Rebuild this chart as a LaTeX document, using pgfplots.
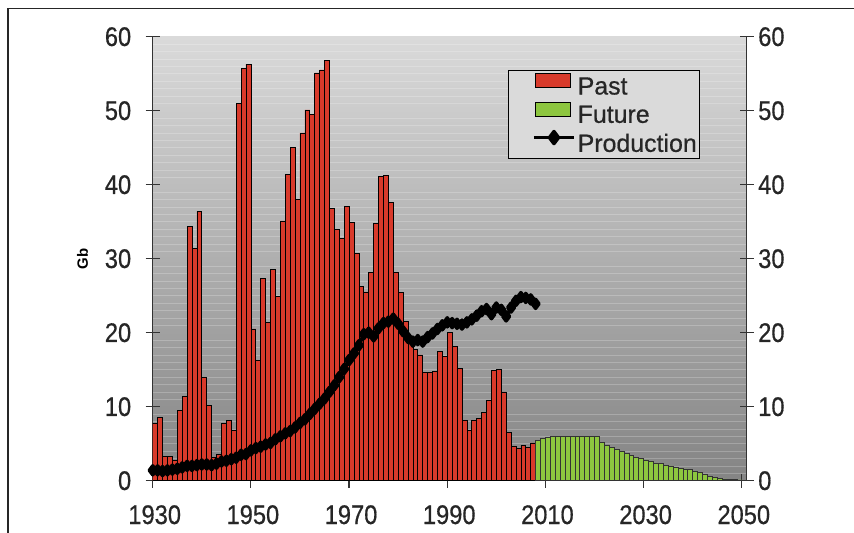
\documentclass[border=0pt]{standalone}
\usepackage{fontspec}
\setmainfont{Liberation Sans}
\newfontfamily\heavyfont[FakeBold=0.6]{Liberation Sans}
\usepackage{pgfplots}
\usepackage{pgfplotstable}
\pgfplotsset{compat=1.18}
\definecolor{pastred}{HTML}{D83A2B}
\definecolor{futgreen}{HTML}{8DC63F}
\definecolor{bgtop}{HTML}{DADADA}
\definecolor{bgmid}{HTML}{B2B2B2}
\definecolor{bgbot}{HTML}{848484}
\definecolor{axgray}{HTML}{333333}

\pgfplotstableread{
year gb
1930 7.7
1931 8.6
1932 3.3
1933 3.3
1934 2.7
1935 9.5
1936 11.4
1937 34.4
1938 31.4
1939 36.4
1940 13.9
1941 10.2
1942 3.2
1943 3.6
1944 7.7
1945 8.1
1946 6.8
1947 51.0
1948 55.7
1949 56.3
1950 20.5
1951 16.3
1952 27.3
1953 21.4
1954 28.6
1955 24.9
1956 35.1
1957 41.4
1958 45.0
1959 38.0
1960 47.0
1961 50.1
1962 49.5
1963 55.1
1964 55.5
1965 56.8
1966 36.8
1967 33.9
1968 32.7
1969 37.1
1970 34.9
1971 30.7
1972 26.2
1973 25.5
1974 28.1
1975 34.8
1976 41.1
1977 41.2
1978 37.6
1979 28.2
1980 25.4
1981 21.5
1982 19.5
1983 17.7
1984 17.0
1985 14.6
1986 14.6
1987 14.8
1988 17.5
1989 16.8
1990 20.0
1991 18.1
1992 15.2
1993 8.2
1994 6.8
1995 8.2
1996 8.4
1997 9.2
1998 10.8
1999 14.9
2000 15.0
2001 12.0
2002 6.5
2003 4.6
2004 4.4
2005 4.8
2006 4.5
2007 5.1
}\pasttable

\pgfplotstableread{
year gb
2008 5.4
2009 5.7
2010 5.9
2011 6.0
2012 6.0
2013 6.0
2014 6.0
2015 6.0
2016 6.0
2017 6.0
2018 6.0
2019 6.0
2020 6.0
2021 5.2
2022 4.8
2023 4.5
2024 4.2
2025 3.9
2026 3.7
2027 3.4
2028 3.2
2029 3.0
2030 2.8
2031 2.6
2032 2.4
2033 2.3
2034 2.1
2035 2.0
2036 1.8
2037 1.7
2038 1.6
2039 1.5
2040 1.3
2041 1.1
2042 0.8
2043 0.6
2044 0.5
2045 0.35
2046 0.25
2047 0.2
2048 0.15
2049 0.1
2050 0.08
}\futuretable

\pgfplotstableread{
year prod
1930 1.4
1931 1.4
1932 1.3
1933 1.4
1934 1.5
1935 1.6
1936 1.8
1937 2.0
1938 2.0
1939 2.1
1940 2.2
1941 2.2
1942 2.1
1943 2.3
1944 2.6
1945 2.7
1946 2.9
1947 3.1
1948 3.5
1949 3.6
1950 4.1
1951 4.4
1952 4.6
1953 4.9
1954 5.1
1955 5.6
1956 6.0
1957 6.4
1958 6.7
1959 7.2
1960 7.8
1961 8.3
1962 9.0
1963 9.7
1964 10.4
1965 11.1
1966 12.0
1967 12.9
1968 14.0
1969 15.1
1970 16.3
1971 17.2
1972 18.3
1973 19.8
1974 20.0
1975 19.5
1976 20.6
1977 21.3
1978 21.5
1979 21.9
1980 21.2
1981 20.2
1982 19.3
1983 18.8
1984 19.0
1985 18.8
1986 19.4
1987 19.9
1988 20.5
1989 21.0
1990 21.4
1991 21.3
1992 21.2
1993 21.1
1994 21.4
1995 21.8
1996 22.3
1997 22.9
1998 23.2
1999 22.5
2000 23.4
2001 23.1
2002 22.2
2003 23.4
2004 24.3
2005 24.8
2006 24.7
2007 24.5
2008 23.9
}\prodtable

\begin{document}
\begin{tikzpicture}
\useasboundingbox (0bp,0bp) rectangle (854bp,533bp);
\draw[line width=1.3bp, black!85] (8bp,0bp) -- (8bp,524.5bp) -- (854bp,524.5bp);
\begin{axis}[
  at={(152.7bp,52.3bp)}, anchor=south west,
  width=594bp, height=444bp, scale only axis,
  xmin=1930, xmax=2051, ymin=0, ymax=60,
  axis x line*=bottom, axis y line*=left,
  xtick={1930,1950,...,2050},
  ytick={0,10,...,60},
  minor y tick num=9,
  minor tick length=0pt,
  yminorgrids,
  minor grid style={white, opacity=0.22, line width=0.7bp},
  tick align=center,
  major tick length=14bp,
  every tick/.style={line width=1.2bp, axgray},
  axis line style={line width=1.2bp, axgray, -},
  /pgf/number format/assume math mode=true,
  /pgf/number format/1000 sep={},
  xticklabel={\scalebox{0.88}[1]{\pgfmathprintnumber{\tick}}},
  yticklabel={\scalebox{0.88}[1]{\pgfmathprintnumber{\tick}}},
  xticklabel style={font=\heavyfont\fontsize{27}{27}\selectfont, text=black!85, yshift=-14bp, xshift=2bp},
  yticklabel style={font=\heavyfont\fontsize{27}{27}\selectfont, text=black!85, xshift=-11bp},
  axis background/.style={top color=bgtop, middle color=bgmid, bottom color=bgbot},
  ylabel={Gb},
  every axis y label/.style={at={(axis description cs:-0.118,0.5)}, rotate=90, anchor=center, font=\fontsize{15}{15}\selectfont\bfseries},
  legend style={at={(axis cs:1930,60)}, anchor=north west, xshift=355bp, yshift=-33bp,
    draw=black, line width=1bp, fill=bgtop, font=\heavyfont\fontsize{25}{25}\selectfont,
    text=black!85,
    inner xsep=0bp, inner ysep=3bp, row sep=3bp,
    nodes={inner sep=2.5bp}},
  legend cell align=left,
]
\addplot[ybar, bar width=1, fill=pastred, draw=black, line width=0.7bp,
  legend image code/.code={\path (-26bp,0bp); \draw[fill=pastred, draw=black, line width=1bp] (0bp,-1bp) rectangle (35bp,13bp);}]
  table[x expr=\thisrow{year}+0.5, y=gb] {\pasttable};
\addlegendentry{Past}
\addplot[ybar, bar width=1, fill=futgreen, draw=black!80, line width=0.7bp,
  legend image code/.code={\path (-26bp,0bp); \draw[fill=futgreen, draw=black, line width=1bp] (0bp,-1bp) rectangle (35bp,13bp);}]
  table[x expr=\thisrow{year}+0.5, y=gb] {\futuretable};
\addlegendentry{Future}
\addplot[black, line width=3.5bp, line join=round, mark=diamond*, mark size=4.5bp,
  legend image code/.code={\path (-26bp,0bp); \draw[black, line width=2.5bp] (-2bp,6bp) -- (38bp,6bp); \fill[black] (18bp,0bp) -- (22.5bp,6bp) -- (18bp,12bp) -- (13.5bp,6bp) -- cycle;}]
  table[x=year, y=prod] {\prodtable};
\addlegendentry{Production}
\end{axis}
\begin{axis}[
  at={(152.7bp,52.3bp)}, anchor=south west,
  width=594bp, height=444bp, scale only axis,
  xmin=1930, xmax=2051, ymin=0, ymax=60,
  axis y line*=right, axis x line=none,
  ytick={0,10,...,60},
  tick align=center,
  major tick length=14bp,
  every tick/.style={line width=1.2bp, axgray},
  axis line style={line width=1.2bp, axgray, -},
  /pgf/number format/assume math mode=true,
  yticklabel={\scalebox{0.88}[1]{\pgfmathprintnumber{\tick}}},
  yticklabel style={font=\heavyfont\fontsize{27}{27}\selectfont, text=black!85, xshift=1bp},
]
\addplot[draw=none] coordinates {(1930,0) (2050,60)};
\end{axis}
\end{tikzpicture}
\end{document}
